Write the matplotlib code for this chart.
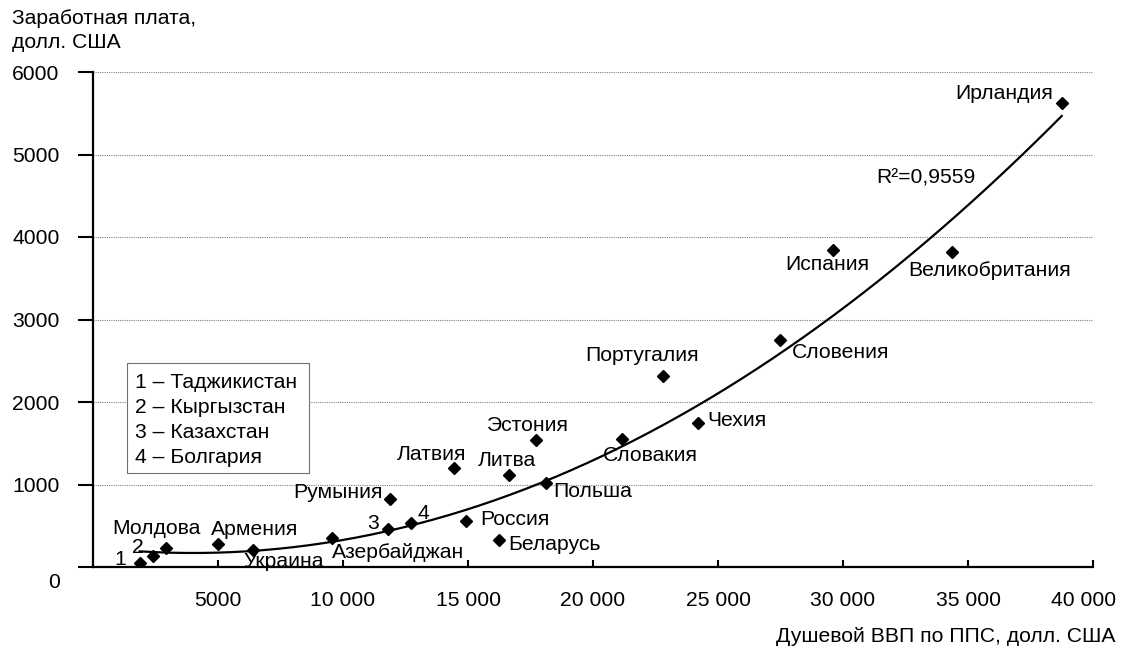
import numpy as np
import matplotlib
matplotlib.use("Agg")
import matplotlib.pyplot as plt
from matplotlib.patches import Rectangle
from matplotlib.transforms import ScaledTranslation

plt.rcParams['font.family'] = ['Liberation Sans', 'DejaVu Sans']

# per-capita GDP (PPP, USD) and wage (USD)
labels = ['Ирландия', 'Испания', 'Великобритания', 'Словения', 'Португалия',
          'Чехия', 'Словакия', 'Эстония', 'Литва', 'Польша', 'Латвия',
          'Румыния', '3', '4', 'Россия', 'Беларусь', 'Азербайджан',
          'Украина', 'Армения', 'Молдова', '2', '1']
gdp = [38750, 29610, 34370, 27480, 22790, 24190, 21170, 17720, 16640, 18120,
       14440, 11880, 11780, 12720, 14920, 16230, 9560, 6400, 5000, 2900,
       2380, 1870]
wage = [5625, 3845, 3820, 2750, 2320, 1750, 1555, 1535, 1110, 1020, 1200,
        820, 460, 530, 560, 330, 350, 210, 280, 235, 135, 50]

# 2nd-order trend line as drawn in the original (coefficients)
trend_coef = [4.387e-6, -0.0351, 240.0]

legend_lines = ['1 – Таджикистан', '2 – Кыргызстан', '3 – Казахстан', '4 – Болгария']
x_ticks = [5000, 10000, 15000, 20000, 25000, 30000, 35000, 40000]
x_ticklabels = ['5000', '10 000', '15 000', '20 000', '25 000', '30 000', '35 000', '40 000']
y_ticks = [0, 1000, 2000, 3000, 4000, 5000, 6000]
r2_text = 'R²=0,9559'

# label placement: (dx px, dy px, ha)
label_pos = {
    'Ирландия': (-9, 9, 'right'), 'Испания': (-6, -15, 'center'),
    'Великобритания': (-44, -19, 'left'), 'Словения': (12, -12, 'left'),
    'Португалия': (-21, 20, 'center'), 'Чехия': (10, 2, 'left'),
    'Словакия': (28, -17, 'center'), 'Эстония': (-8, 15, 'center'),
    'Литва': (-2, 15, 'center'), 'Польша': (7, -9, 'left'),
    'Латвия': (-22, 13, 'center'), 'Румыния': (-7, 7, 'right'),
    '3': (-14, 6, 'center'), '4': (12, 10, 'center'),
    'Россия': (14, 1, 'left'), 'Беларусь': (9, -5, 'left'),
    'Азербайджан': (0, -14, 'left'), 'Украина': (-10, -12, 'left'),
    'Армения': (-7, 14, 'left'), 'Молдова': (-9, 19, 'center'),
    '2': (-15, 8, 'center'), '1': (-20, 3, 'center'),
}

FS = 15.2

fig = plt.figure(figsize=(11.25, 6.52), dpi=100)
ax = fig.add_axes([93 / 1125, 85 / 652, 1000 / 1125, 495 / 652])

xs = np.linspace(min(gdp), max(gdp), 300)
ax.plot(xs, np.polyval(trend_coef, xs), color='black', lw=1.6, zorder=3)

ax.plot(gdp, wage, 'D', color='black', ms=6.5, zorder=4)

for name, x, y in zip(labels, gdp, wage):
    dx, dy, ha = label_pos[name]
    ax.annotate(name, (x, y), xytext=(dx, dy), textcoords='offset pixels',
                ha=ha, va='center', fontsize=FS, zorder=5)

ax.set_xlim(0, 40000)
ax.set_ylim(0, 6000)
ax.set_xticks(x_ticks)
ax.set_xticklabels(x_ticklabels)
ax.set_yticks(y_ticks)
ax.set_yticklabels([str(v) for v in y_ticks])

ax.tick_params(axis='x', direction='in', length=5, width=1.5, pad=17, labelsize=FS)
ax.tick_params(axis='y', direction='out', length=11, width=1.5, pad=13, labelsize=FS)

# shift the "0" label down and the last x label left, as in the original
t0 = ax.get_yticklabels()[0]
t0.set_transform(t0.get_transform() + ScaledTranslation(0, -14 / 100, fig.dpi_scale_trans))
tl = ax.get_xticklabels()[-1]
tl.set_transform(tl.get_transform() + ScaledTranslation(-9 / 100, 0, fig.dpi_scale_trans))

for s in ['top', 'right']:
    ax.spines[s].set_visible(False)
for s in ['left', 'bottom']:
    ax.spines[s].set_linewidth(1.6)

ax.yaxis.grid(True, linestyle=(0, (1, 1)), color='#808080', lw=0.8)
ax.set_axisbelow(True)

# R² of the trend line
ax.text(0.783, 0.786, r2_text, transform=ax.transAxes, fontsize=FS,
        ha='left', va='center')

# key box for numbered countries
ax.add_patch(Rectangle((0.034, 0.190), 0.182, 0.222, transform=ax.transAxes,
                       fc='white', ec='#707070', lw=0.8, zorder=6))
for i, line in enumerate(legend_lines):
    ax.text(0.042, 0.372 - i * 0.05, line, transform=ax.transAxes,
            fontsize=FS, ha='left', va='center', zorder=7)

fig.text(12 / 1125, 1 - 18 / 652, 'Заработная плата,', fontsize=FS, va='center')
fig.text(12 / 1125, 1 - 43 / 652, 'долл. США', fontsize=FS, va='center')
fig.text(1115 / 1125, 1 - 637 / 652, 'Душевой ВВП по ППС, долл. США',
         fontsize=FS, ha='right', va='center')

fig.savefig('out.png', dpi=100)
